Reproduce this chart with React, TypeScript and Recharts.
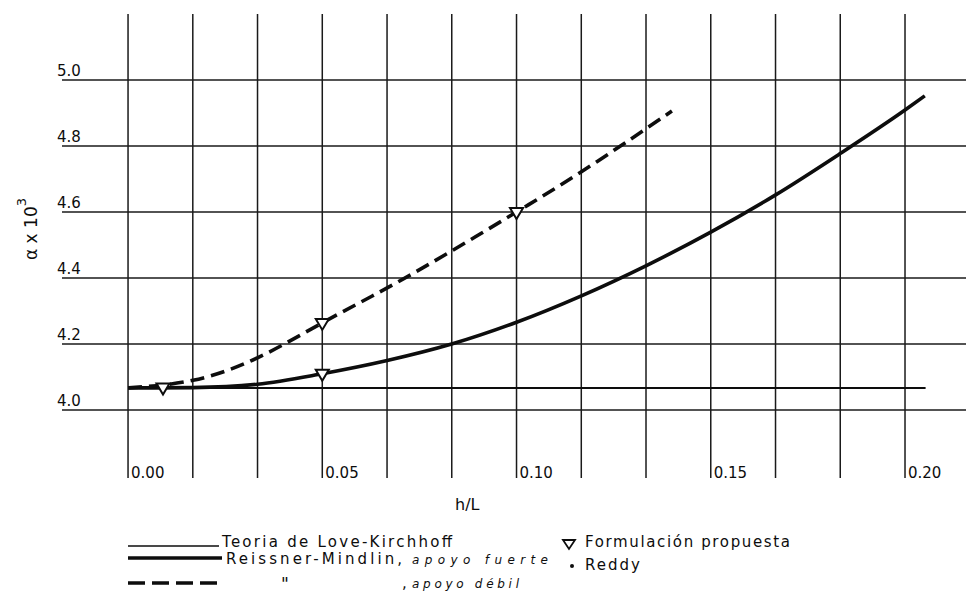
import { ComposedChart, Line, ReferenceLine, Scatter, XAxis, YAxis } from "recharts"

// h/L on x, alpha x 10^3 on y
const xGridTicks = [0, 0.01667, 0.03333, 0.05, 0.06667, 0.08333, 0.1, 0.11667, 0.13333, 0.15, 0.16667, 0.18333, 0.2]
const xTickLabels = ["0.00", "", "", "0.05", "", "", "0.10", "", "", "0.15", "", "", "0.20"]
const yTicks = [4.0, 4.2, 4.4, 4.6, 4.8, 5.0]
const yTickLabels = ["4.0", "4.2", "4.4", "4.6", "4.8", "5.0"]

const loveKirchhoffX = [0, 0.2053]
const loveKirchhoffY = [4.067, 4.067]

const strongX = [0, 0.0167, 0.0333, 0.05, 0.0667, 0.0833, 0.1, 0.1167, 0.1333, 0.15, 0.1667, 0.1833, 0.2, 0.2051]
const strongY = [4.067, 4.068, 4.078, 4.11, 4.15, 4.2, 4.266, 4.346, 4.437, 4.539, 4.652, 4.777, 4.909, 4.952]

const weakX = [0, 0.0167, 0.0333, 0.05, 0.0667, 0.0833, 0.1, 0.1167, 0.1333, 0.14]
const weakY = [4.067, 4.09, 4.158, 4.264, 4.37, 4.482, 4.6, 4.722, 4.852, 4.906]

const proposedX = [0.009, 0.05, 0.05, 0.1]
const proposedY = [4.068, 4.11, 4.264, 4.6]

const toPoints = (xs: number[], ys: number[]) => xs.map((x, i) => ({ x, y: ys[i] }))

const loveKirchhoff = toPoints(loveKirchhoffX, loveKirchhoffY)
const strong = toPoints(strongX, strongY)
const weak = toPoints(weakX, weakY)
const proposed = toPoints(proposedX, proposedY)

const FONT = "'DejaVu Sans', sans-serif"
const INK = "#0d0d0d"
const GRID = "#1a1a1a"

function XTick({ x, y, index }: any) {
  const label = xTickLabels[index]
  if (!label) return <g />
  return (
    <text x={x + 3} y={y - 6} fontSize={15} fontFamily={FONT} fill={INK}>
      {label}
    </text>
  )
}

function YTick({ x, y, index }: any) {
  return (
    <text x={x + 1} y={y - 4} fontSize={15} fontFamily={FONT} fill={INK}>
      {yTickLabels[index]}
    </text>
  )
}

function TriangleDown({ cx, cy }: any) {
  if (cx == null || cy == null) return <g />
  return (
    <path
      d={`M${cx - 6.5},${cy - 4} L${cx + 6.5},${cy - 4} L${cx},${cy + 7} Z`}
      fill="#fff"
      stroke={INK}
      strokeWidth={2}
    />
  )
}

export default function App() {
  return (
    <div style={{ position: "absolute", left: 0, top: 0, width: 966, height: 597, background: "#fff" }}>
      <ComposedChart width={966} height={597} margin={{ top: 14, right: 0, bottom: 89, left: 0 }}>
        <XAxis
          type="number"
          dataKey="x"
          domain={[-0.017, 0.2157]}
          allowDataOverflow
          ticks={xGridTicks}
          interval={0}
          axisLine={false}
          tickLine={false}
          tickMargin={0}
          height={30}
          tick={<XTick />}
        />
        <YAxis
          type="number"
          domain={[3.794, 5.2]}
          allowDataOverflow
          ticks={yTicks}
          interval={0}
          width={62}
          axisLine={false}
          tickLine={false}
          tickMargin={0}
          tick={<YTick />}
        />
        {xGridTicks.map((t) => (
          <ReferenceLine key={`vx${t}`} x={t} stroke={GRID} strokeWidth={1.5} />
        ))}
        {yTicks.map((t) => (
          <ReferenceLine key={`hy${t}`} y={t} stroke={GRID} strokeWidth={1.5} />
        ))}
        <Line data={loveKirchhoff} dataKey="y" type="linear" stroke={INK} strokeWidth={2} dot={false} activeDot={false} isAnimationActive={false} />
        <Line data={strong} dataKey="y" type="monotone" stroke={INK} strokeWidth={3.6} dot={false} activeDot={false} isAnimationActive={false} />
        <Line data={weak} dataKey="y" type="natural" stroke={INK} strokeWidth={3.6} strokeDasharray="14 7" dot={false} activeDot={false} isAnimationActive={false} />
        <Scatter data={proposed} dataKey="y" shape={<TriangleDown />} isAnimationActive={false} />
      </ComposedChart>

      <svg
        width={966}
        height={597}
        style={{ position: "absolute", left: 0, top: 0, pointerEvents: "none" }}
        fontFamily={FONT}
        fill={INK}
      >
        <text transform="translate(37,260) rotate(-90)" fontSize={17}>
          α x 10<tspan dy={-11} fontSize={13}>3</tspan>
        </text>
        <text x={455} y={510} fontSize={16}>h/L</text>

        {/* legend */}
        <line x1={128} x2={219} y1={546} y2={546} stroke={INK} strokeWidth={1.5} />
        <text x={222} y={547} fontSize={15} textLength={230} lengthAdjust="spacing">Teoria de Love-Kirchhoff</text>

        <line x1={128} x2={222} y1={558} y2={558} stroke={INK} strokeWidth={3.5} />
        <text x={226} y={564} fontSize={15} textLength={176} lengthAdjust="spacing">Reissner-Mindlin,</text>
        <text x={412} y={564} fontSize={12} fontStyle="italic" textLength={136} lengthAdjust="spacing">apoyo fuerte</text>

        <line x1={128} x2={222} y1={583} y2={583} stroke={INK} strokeWidth={3.5} strokeDasharray="17 7" />
        <text x={281} y={590} fontSize={17}>"</text>
        <text x={402} y={588} fontSize={15}>,</text>
        <text x={412} y={588} fontSize={12} fontStyle="italic" textLength={107} lengthAdjust="spacing">apoyo débil</text>

        <path d="M563,540 L575,540 L569,549 Z" fill="#fff" stroke={INK} strokeWidth={1.8} />
        <text x={585} y={547} fontSize={15} textLength={205} lengthAdjust="spacing">Formulación propuesta</text>
        <circle cx={572} cy={566} r={2} fill={INK} />
        <text x={585} y={570} fontSize={15} textLength={55} lengthAdjust="spacing">Reddy</text>
      </svg>
    </div>
  )
}
